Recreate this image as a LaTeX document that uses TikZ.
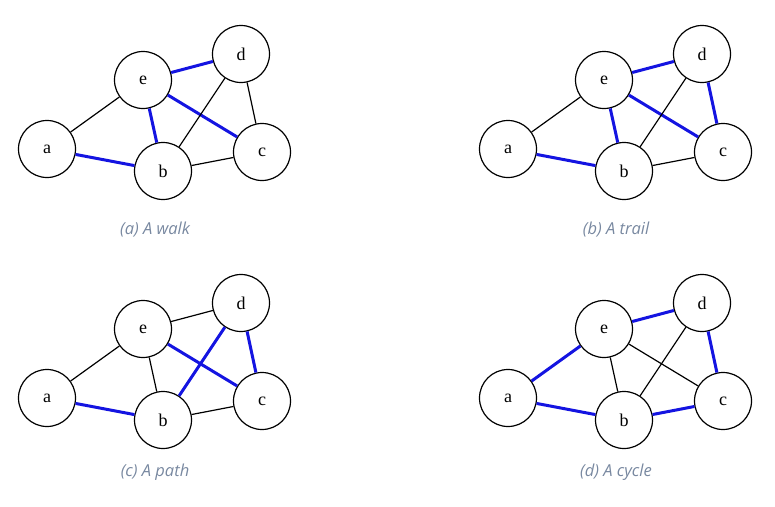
\documentclass[tikz,border=0pt]{standalone}
\usepackage{fontspec}
\setmainfont{Liberation Serif}
\newfontfamily\capfont{Open Sans}
\definecolor{edgeblue}{RGB}{20,20,225}
\definecolor{capgray}{RGB}{120,136,160}
\tikzset{
  vtx/.style={circle, draw=black, fill=white, line width=1.2pt, minimum size=57pt, inner sep=0pt, font=\fontsize{18}{18}\selectfont},
  plain/.style={draw=black, line width=1.2pt},
  hl/.style={draw=edgeblue, line width=3pt},
  captxt/.style={font=\capfont\itshape\fontsize{16.5}{18}\selectfont, text=capgray}
}
\begin{document}
\begin{tikzpicture}[x=1pt,y=-1pt]
\useasboundingbox (0,0) rectangle (775,506);
\begin{scope}[shift={(0,0)}]
\node[vtx] (aa) at (47,149) {a};
\node[vtx] (ae) at (143,80) {e};
\node[vtx] (ad) at (241,54) {d};
\node[vtx] (ac) at (262,152) {c};
\node[vtx] (ab) at (163,171) {b};
\end{scope}
\begin{scope}[shift={(461,0)}]
\node[vtx] (ba) at (47,149) {a};
\node[vtx] (be) at (143,80) {e};
\node[vtx] (bd) at (241,54) {d};
\node[vtx] (bc) at (262,152) {c};
\node[vtx] (bb) at (163,171) {b};
\end{scope}
\begin{scope}[shift={(0,249)}]
\node[vtx] (ca) at (47,149) {a};
\node[vtx] (ce) at (143,80) {e};
\node[vtx] (cd) at (241,54) {d};
\node[vtx] (cc) at (262,152) {c};
\node[vtx] (cb) at (163,171) {b};
\end{scope}
\begin{scope}[shift={(461,249)}]
\node[vtx] (da) at (47,149) {a};
\node[vtx] (de) at (143,80) {e};
\node[vtx] (dd) at (241,54) {d};
\node[vtx] (dc) at (262,152) {c};
\node[vtx] (db) at (163,171) {b};
\end{scope}
% edges (a): walk
\draw[plain] (aa) -- (ae);
\draw[hl] (aa) -- (ab);
\draw[hl] (ae) -- (ad);
\draw[hl] (ae) -- (ab);
\draw[hl] (ae) -- (ac);
\draw[plain] (ad) -- (ab);
\draw[plain] (ad) -- (ac);
\draw[plain] (ab) -- (ac);
% edges (b): trail
\draw[plain] (ba) -- (be);
\draw[hl] (ba) -- (bb);
\draw[hl] (be) -- (bd);
\draw[hl] (be) -- (bb);
\draw[hl] (be) -- (bc);
\draw[plain] (bd) -- (bb);
\draw[hl] (bd) -- (bc);
\draw[plain] (bb) -- (bc);
% edges (c): path
\draw[plain] (ca) -- (ce);
\draw[hl] (ca) -- (cb);
\draw[plain] (ce) -- (cd);
\draw[plain] (ce) -- (cb);
\draw[hl] (ce) -- (cc);
\draw[hl] (cd) -- (cb);
\draw[hl] (cd) -- (cc);
\draw[plain] (cb) -- (cc);
% edges (d): cycle
\draw[hl] (da) -- (de);
\draw[hl] (da) -- (db);
\draw[hl] (de) -- (dd);
\draw[plain] (de) -- (db);
\draw[plain] (de) -- (dc);
\draw[plain] (dd) -- (db);
\draw[hl] (dd) -- (dc);
\draw[hl] (db) -- (dc);
% captions
\node[captxt] (capa) at (155,230) {(a) A walk};
\node[captxt] (capb) at (616,230) {(b) A trail};
\node[captxt] (capc) at (155,472) {(c) A path};
\node[captxt] (capd) at (616,472) {(d) A cycle};
\end{tikzpicture}
\end{document}
